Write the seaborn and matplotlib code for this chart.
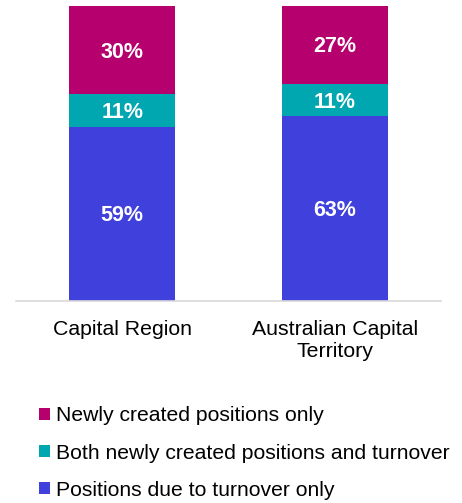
import matplotlib
matplotlib.use("Agg")
import matplotlib.pyplot as plt
import seaborn as sns
import pandas as pd
from matplotlib.patches import Patch

categories = ["Capital Region", "Australian Capital\nTerritory"]
turnover_only = [59.0, 62.6]
both = [11.0, 10.8]
newly_only = [30.0, 26.6]
series_names = ["Newly created positions only",
                "Both newly created positions and turnover",
                "Positions due to turnover only"]
colors = ["#B5006E", "#00A7B0", "#4040DC"]

sns.set_theme(style="white")
plt.rcParams['font.family'] = ['Liberation Sans', 'DejaVu Sans']
plt.rcParams['text.color'] = 'black'

fig = plt.figure(figsize=(4.62, 5.03), dpi=100)
ax = fig.add_axes([0.0346, 0.4016, 0.92, 0.5865])

df = pd.DataFrame({
    "cat": categories,
    "turn": turnover_only,
    "both": both,
    "new": newly_only,
})
df["c1"] = df["turn"]
df["c2"] = df["turn"] + df["both"]
df["c3"] = df["c2"] + df["new"]

for col, color in zip(["c3", "c2", "c1"], colors):
    sns.barplot(data=df, x="cat", y=col, color=color, width=0.5,
                saturation=1, ax=ax, linewidth=0, order=categories)

for i in range(len(categories)):
    segs = [(0, turnover_only[i]), (turnover_only[i], both[i]),
            (turnover_only[i] + both[i], newly_only[i])]
    for bottom, h in segs:
        ax.text(i, bottom + h / 2 - 0.6, f"{h:.0f}%", ha="center", va="center",
                color="white", fontsize=15.5, fontweight="bold")

ax.set_xlim(-0.5, 1.5)
ax.set_ylim(0, 100)
ax.set_xlabel("")
ax.set_ylabel("")
ax.set_yticks([])
for s in ["top", "right", "left"]:
    ax.spines[s].set_visible(False)
ax.spines["bottom"].set_color("#D9D9D9")
ax.spines["bottom"].set_linewidth(1.2)
ax.tick_params(axis="x", length=0, pad=14, labelsize=15.3, colors="black")
for lbl in ax.get_xticklabels():
    lbl.set_linespacing(1.15)
    lbl.set_verticalalignment("top")

handles = [Patch(facecolor=c, edgecolor="none") for c in colors]
leg = fig.legend(handles, series_names, loc="upper left",
                 bbox_to_anchor=(0.0845, 0.192), frameon=False, fontsize=15.2,
                 handlelength=0.52, handleheight=0.52, handletextpad=0.3,
                 labelspacing=0.86, borderaxespad=0, borderpad=0)
for t in leg.get_texts():
    t.set_color("black")

fig.savefig("out.png", dpi=100)
